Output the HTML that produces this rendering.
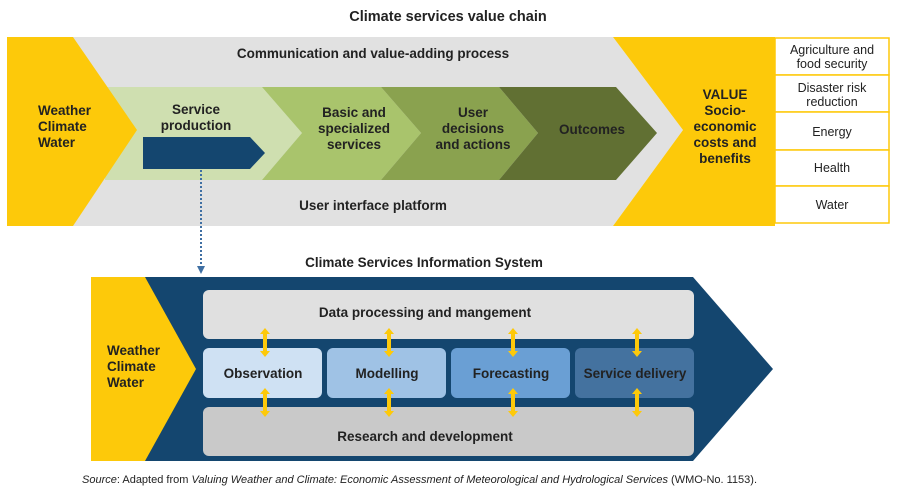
<!DOCTYPE html>
<html><head><meta charset="utf-8"><style>
body{margin:0;background:#fff;}
svg text{font-family:"Liberation Sans",sans-serif;fill:#222;}
.b{font-weight:bold;font-size:13.5px;}
.n{font-size:12.5px;}
</style></head><body>
<svg width="897" height="492" xmlns="http://www.w3.org/2000/svg">
<defs><marker id="ah" markerWidth="4" markerHeight="4" refX="2" refY="2" orient="auto"><path d="M0,0 L4,2 L0,4z" fill="#3f6fa3"/></marker></defs>
<text x="448" y="21" text-anchor="middle" class="b" style="font-size:14.5px">Climate services value chain</text>
<polygon points="73,37 613,37 683,130 613,226 73,226" fill="#e1e1e1"/>
<polygon points="613,37 775,37 775,226 613,226 683,130" fill="#fdc90a"/>
<polygon points="105,87 262,87 302,133 262,180 105,180" fill="#cfdfb0"/>
<polygon points="262,87 381,87 421,133 381,180 262,180 302,133" fill="#a9c46c"/>
<polygon points="381,87 499,87 538,133 499,180 381,180 421,133" fill="#8aa24f"/>
<polygon points="499,87 616,87 657,133 616,180 499,180 538,133" fill="#617033"/>
<polygon points="7,37 73,37 137,130 73,226 7,226" fill="#fdc90a"/>
<polygon points="143,137 250,137 265,153 250,169 143,169" fill="#14466f"/>
<text x="373" y="58" text-anchor="middle" class="b">Communication and value-adding process</text>
<text x="373" y="210" text-anchor="middle" class="b">User interface platform</text>
<g class="b"><text x="38" y="115">Weather</text><text x="38" y="131">Climate</text><text x="38" y="147">Water</text></g>
<g class="b" text-anchor="middle">
<text x="196" y="114">Service</text><text x="196" y="130">production</text>
<text x="354" y="117">Basic and</text><text x="354" y="133">specialized</text><text x="354" y="149">services</text>
<text x="473" y="117">User</text><text x="473" y="133">decisions</text><text x="473" y="149">and actions</text>
<text x="592" y="134">Outcomes</text>
<text x="725" y="99">VALUE</text><text x="725" y="115">Socio-</text><text x="725" y="131">economic</text><text x="725" y="147">costs and</text><text x="725" y="163">benefits</text>
</g>
<g fill="#fff" stroke="#fdc90a" stroke-width="1.5">
<rect x="775" y="38" width="114" height="37"/><rect x="775" y="75" width="114" height="37"/><rect x="775" y="112" width="114" height="38"/><rect x="775" y="150" width="114" height="36"/><rect x="775" y="186" width="114" height="37"/>
</g>
<g class="n" text-anchor="middle">
<text x="832" y="54">Agriculture and</text><text x="832" y="68">food security</text>
<text x="832" y="92">Disaster risk</text><text x="832" y="106">reduction</text>
<text x="832" y="136">Energy</text><text x="832" y="172">Health</text><text x="832" y="209">Water</text>
</g>
<line x1="201" y1="170" x2="201" y2="270" stroke="#3f6fa3" stroke-width="2" stroke-dasharray="2,2" marker-end="url(#ah)"/>
<text x="424" y="267" text-anchor="middle" class="b">Climate Services Information System</text>
<polygon points="145,277 693,277 773,369 693,461 145,461" fill="#14466f"/>
<polygon points="91,277 145,277 196,369 145,461 91,461" fill="#fdc90a"/>
<rect x="203" y="290" width="491" height="49" rx="6" fill="#e0e0e0"/>
<rect x="203" y="407" width="491" height="49" rx="6" fill="#c9c9c9"/>
<rect x="203" y="348" width="119" height="50" rx="6" fill="#cfe1f3"/>
<rect x="327" y="348" width="119" height="50" rx="6" fill="#9fc2e5"/>
<rect x="451" y="348" width="119" height="50" rx="6" fill="#6a9fd4"/>
<rect x="575" y="348" width="119" height="50" rx="6" fill="#44729f"/>
<g class="b" text-anchor="middle">
<text x="425" y="317">Data processing and mangement</text>
<text x="425" y="441">Research and development</text>
<text x="263" y="378">Observation</text><text x="387" y="378">Modelling</text><text x="511" y="378">Forecasting</text><text x="635" y="378">Service delivery</text>
</g>
<g class="b"><text x="107" y="355">Weather</text><text x="107" y="371">Climate</text><text x="107" y="387">Water</text></g>
<g fill="#fdc90a">
<path id="da" d="M265,328 l-5,6 h3 v17 h-3 l5,6 l5,-6 h-3 v-17 h3z"/>
<use href="#da" x="124"/><use href="#da" x="248"/><use href="#da" x="372"/>
<use href="#da" y="60"/><use href="#da" x="124" y="60"/><use href="#da" x="248" y="60"/><use href="#da" x="372" y="60"/>
</g>
<text x="82" y="483" style="font-size:11px"><tspan font-style="italic">Source</tspan>: Adapted from <tspan font-style="italic">Valuing Weather and Climate: Economic Assessment of Meteorological and Hydrological Services</tspan> (WMO-No. 1153).</text>
</svg>
</body></html>
